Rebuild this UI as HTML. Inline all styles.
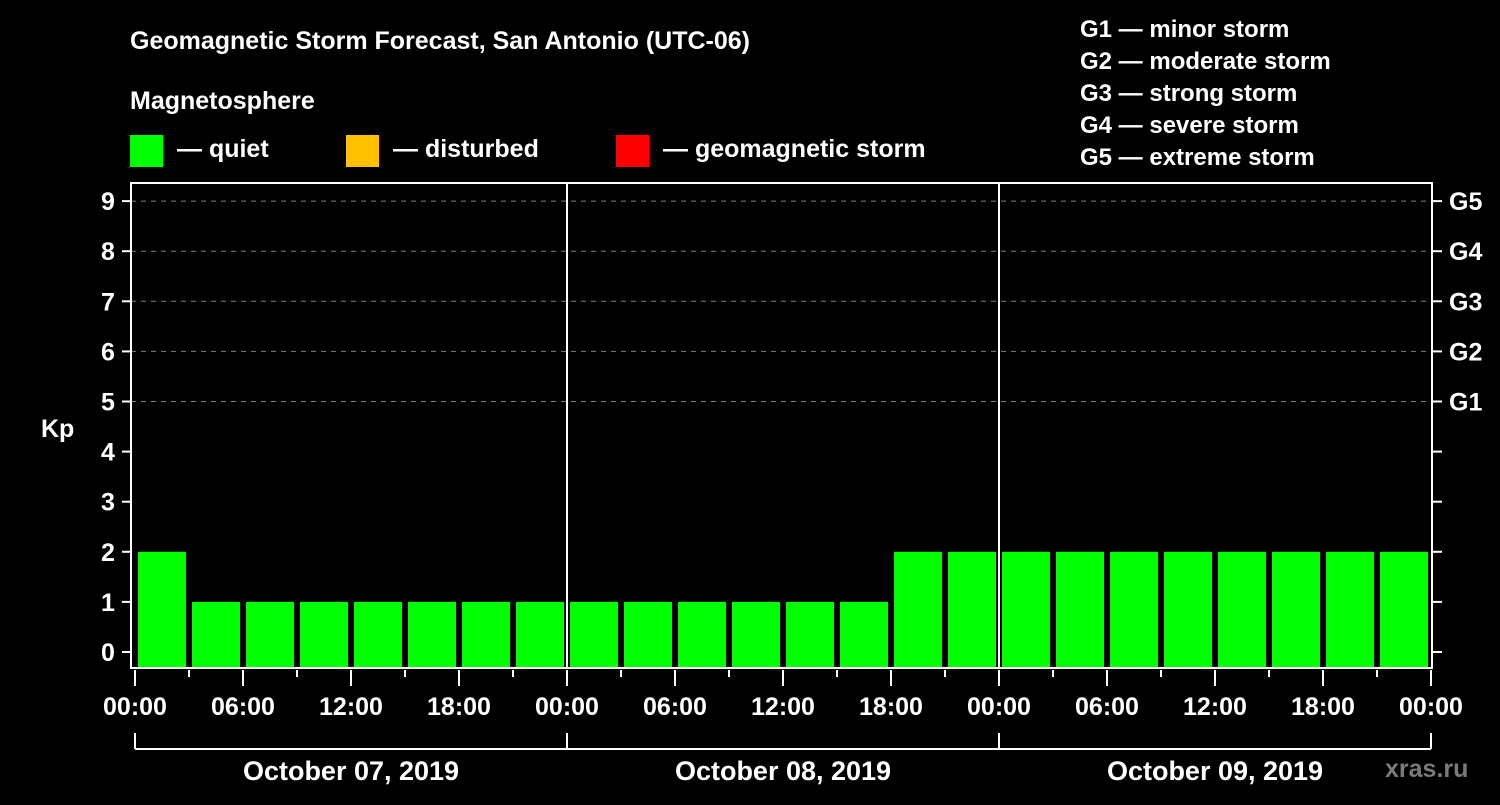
<!DOCTYPE html>
<html><head><meta charset="utf-8"><style>
html,body{margin:0;padding:0;background:#000;}
svg text{font-family:"Liberation Sans",Arial,sans-serif;font-weight:bold;fill:#fff;}
</style></head><body>
<svg id="chart" width="1500" height="800" viewBox="0 0 1500 800" xmlns="http://www.w3.org/2000/svg">
<rect width="1500" height="800" fill="#000"/>
<text x="130" y="49" font-size="25">Geomagnetic Storm Forecast, San Antonio (UTC-06)</text>
<text x="130" y="109" font-size="25">Magnetosphere</text>
<g><rect x="130" y="135" width="33" height="32" fill="#00ff00"/><text x="177" y="157" font-size="25">— quiet</text></g>
<g><rect x="346" y="135" width="33" height="32" fill="#ffc000"/><text x="393" y="157" font-size="25">— disturbed</text></g>
<g><rect x="616" y="135" width="33" height="32" fill="#ff0000"/><text x="663" y="157" font-size="25">— geomagnetic storm</text></g>
<g font-size="24">
<text x="1080" y="37" font-size="24">G1 — minor storm</text>
<text x="1080" y="69" font-size="24">G2 — moderate storm</text>
<text x="1080" y="101" font-size="24">G3 — strong storm</text>
<text x="1080" y="133" font-size="24">G4 — severe storm</text>
<text x="1080" y="165" font-size="24">G5 — extreme storm</text>
</g>
<text x="41" y="437" font-size="25">Kp</text>
<text x="1385" y="777" font-size="25" fill="#808080" style="fill:#7a7a7a">xras.ru</text>
<g id="plot"></g>
</svg>
<script>
const kpValues = [2,1,1,1,1,1,1,1, 1,1,1,1,1,1,2,2, 2,2,2,2,2,2,2,2];
const yTicks = [0,1,2,3,4,5,6,7,8,9];
const gLabels = ["G1","G2","G3","G4","G5"];
const gLevels = [5,6,7,8,9];
const xTickLabels = ["00:00","06:00","12:00","18:00","00:00","06:00","12:00","18:00","00:00","06:00","12:00","18:00","00:00"];
const dayLabels = ["October 07, 2019","October 08, 2019","October 09, 2019"];

const NS="http://www.w3.org/2000/svg";
const g=document.getElementById('plot');
const X0=135, HX=18, Y0=652, UY=50.1;
const xs=h=>X0+h*HX, ys=v=>Y0-v*UY;
function mk(t,a,p){const e=document.createElementNS(NS,t);for(const k in a)e.setAttribute(k,a[k]);(p||g).appendChild(e);return e;}
// grid
gLevels.forEach(v=>{
 const l=mk('line',{x1:131,x2:1432,y1:ys(v),y2:ys(v),stroke:'#808080','stroke-width':1,'stroke-dasharray':'5,5'});
 
 
});
// bars
kpValues.forEach((v,i)=>{
 const color=v>=5?'#ff0000':(v>=4?'#ffc000':'#00ff00');
 const r=mk('rect',{x:xs(i*3)+3,y:ys(v),width:HX*3-6,height:667-ys(v),fill:color});
 
 
});
// day separators
[1,2].forEach(d=>{
 const l=mk('line',{x1:xs(d*24),x2:xs(d*24),y1:183,y2:668,stroke:'#fff','stroke-width':2});
 
 
});
// frame
const fr=mk('rect',{x:131,y:183,width:1301,height:485,fill:'none',stroke:'#fff','stroke-width':2});


// y ticks
yTicks.forEach(v=>{
 mk('line',{x1:122,x2:131,y1:ys(v),y2:ys(v),stroke:'#fff','stroke-width':2});
 mk('line',{x1:1432,x2:1442,y1:ys(v),y2:ys(v),stroke:'#fff','stroke-width':2});
 const t=mk('text',{x:108,y:ys(v)+9,'font-size':25,'text-anchor':'middle'});
 t.textContent=v;
 
 
});
gLevels.forEach((v,i)=>{
 const t=mk('text',{x:1449,y:ys(v)+9,'font-size':25});
 t.textContent=gLabels[i];
 
 
});
// x ticks
for(let h=0;h<=72;h+=3){
 const major=h%6===0;
 mk('line',{x1:xs(h),x2:xs(h),y1:670,y2:major?686:677,stroke:'#fff','stroke-width':2});
}
xTickLabels.forEach((s,i)=>{
 const t=mk('text',{x:xs(i*6),y:715,'font-size':25,'text-anchor':'middle'});
 t.textContent=s;
 
 
});
// day bracket
mk('line',{x1:xs(0),x2:xs(72),y1:749,y2:749,stroke:'#fff','stroke-width':2});
[0,24,48,72].forEach(h=>mk('line',{x1:xs(h),x2:xs(h),y1:733,y2:749,stroke:'#fff','stroke-width':2}));
dayLabels.forEach((s,i)=>{
 const t=mk('text',{x:xs(i*24+12),y:780,'font-size':27,'text-anchor':'middle'});
 t.textContent=s;
 
 
});
</script>
</body></html>
